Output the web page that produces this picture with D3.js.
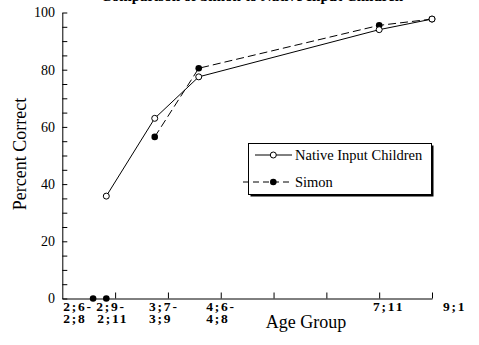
<!DOCTYPE html>
<html>
<head>
<meta charset="utf-8">
<script src="https://cdn.jsdelivr.net/npm/d3@7"></script>
<style>
  body { margin: 0; background: #fff; }
  svg { display: block; font-family: 'Liberation Serif', 'Times New Roman', serif; }
</style>
</head>
<body>
<div id="chart"></div>
<script>
// Age groups (label lines) and where each group sits on the age axis, in months
var groupLine1 = ['2;6-', '2;9-', '3;7-', '4;6-', '7;11', '9;1']
var groupLine2 = ['2;8', '2;11', '3;9', '4;8', '', '']
var groupAge = [31, 34, 45, 55, 96, 108]
var labelAge = [24.2, 31.7, 43.7, 56.7, 94.6, 110.5]

// Percent correct per group (null = no data)
var nativeValues = [null, 35.8, 63, 77.5, 94, 97.7]
var simonValues = [0, 0, 56.5, 80.5, 95.5, 97.7]
var simonLineFrom = 2 // Simon's line is only drawn from 3;7-3;9 on

var yearTicks = [36, 48, 60, 72, 84, 96, 108]

var width = 479
var height = 345

var svg = d3.select('#chart').append('svg')
  .attr('width', width)
  .attr('height', height)

var x = d3.scaleLinear().domain([24, 108]).range([62.3, 432])
var y = d3.scaleLinear().domain([0, 100]).range([298.5, 12.5])

// Title (clipped at the top of the picture)
svg.append('text')
  .attr('x', 252)
  .attr('y', 0.5)
  .attr('text-anchor', 'middle')
  .attr('font-weight', 'bold')
  .attr('font-size', 15)
  .text('Comparison of Simon to Native Input Children')

// Y axis: major ticks with labels every 20, minor every 5
svg.append('g')
  .attr('transform', 'translate(' + x(24) + ',0)')
  .call(d3.axisLeft(y).tickValues(d3.range(0, 101, 5)).tickSizeInner(-5).tickSizeOuter(0).tickFormat(''))
  .call(g => g.selectAll('line').attr('stroke', '#000'))
  .call(g => g.select('.domain').attr('stroke', '#000'))

svg.append('g')
  .selectAll('text')
  .data(d3.range(0, 101, 20))
  .join('text')
  .attr('x', 55)
  .attr('y', d => y(d))
  .attr('dy', '0.35em')
  .attr('text-anchor', 'end')
  .attr('font-size', 14)
  .text(d => d)

// X axis: yearly ticks pointing up
svg.append('g')
  .attr('transform', 'translate(0,' + y(0) + ')')
  .call(d3.axisBottom(x).tickValues(yearTicks).tickSizeInner(-6).tickSizeOuter(0).tickFormat(''))
  .call(g => g.selectAll('line').attr('stroke', '#000'))
  .call(g => g.select('.domain').attr('stroke', '#000'))

var labels = svg.append('g')
  .style('font-weight', 'bold')
  .style('font-size', '13.5px')
  .style('letter-spacing', '1.8px')
labels.selectAll('text.l1')
  .data(groupLine1)
  .join('text')
  .attr('class', 'l1')
  .attr('x', (d, i) => x(labelAge[i]))
  .attr('y', 311)
  .text(d => d)
labels.selectAll('text.l2')
  .data(groupLine2)
  .join('text')
  .attr('class', 'l2')
  .attr('x', (d, i) => x(labelAge[i]) + (i === 1 ? 1 : 0))
  .attr('y', 323)
  .text(d => d)

// Axis titles
svg.append('text')
  .attr('x', 306)
  .attr('y', 328)
  .attr('text-anchor', 'middle')
  .attr('font-size', 18)
  .text('Age Group')

svg.append('text')
  .attr('transform', 'translate(26,154) rotate(-90)')
  .attr('text-anchor', 'middle')
  .attr('font-size', 18)
  .text('Percent Correct')

// Lines
var nativeData = groupAge.map((a, i) => ({ age: a, v: nativeValues[i] })).filter(d => d.v !== null)
var simonData = groupAge.map((a, i) => ({ age: a, v: simonValues[i] }))

var line = d3.line().x(d => x(d.age)).y(d => y(d.v))

svg.append('path')
  .datum(simonData.slice(simonLineFrom))
  .attr('fill', 'none')
  .attr('stroke', '#000')
  .attr('stroke-width', 1)
  .attr('stroke-dasharray', '8,4')
  .attr('d', line)

svg.append('path')
  .datum(nativeData)
  .attr('fill', 'none')
  .attr('stroke', '#000')
  .attr('stroke-width', 1)
  .attr('d', line)

svg.append('g')
  .selectAll('circle')
  .data(simonData)
  .join('circle')
  .attr('cx', d => x(d.age))
  .attr('cy', d => y(d.v))
  .attr('r', 3.3)
  .attr('fill', '#000')

svg.append('g')
  .selectAll('circle')
  .data(nativeData)
  .join('circle')
  .attr('cx', d => x(d.age))
  .attr('cy', d => y(d.v))
  .attr('r', 3)
  .attr('fill', '#fff')
  .attr('stroke', '#000')

// Legend with drop shadow
var legend = svg.append('g')
legend.append('rect')
  .attr('x', 250.5).attr('y', 145.5).attr('width', 183).attr('height', 51)
  .attr('fill', '#000')
legend.append('rect')
  .attr('x', 248.5).attr('y', 143.5).attr('width', 183).attr('height', 51)
  .attr('fill', '#fff').attr('stroke', '#000')

legend.append('line')
  .attr('x1', 255).attr('x2', 292).attr('y1', 155).attr('y2', 155)
  .attr('stroke', '#000')
legend.append('circle')
  .attr('cx', 273.3).attr('cy', 155).attr('r', 3)
  .attr('fill', '#fff').attr('stroke', '#000')
legend.append('text')
  .attr('x', 295).attr('y', 155).attr('dy', '0.35em')
  .attr('font-size', 14.5)
  .text('Native Input Children')

legend.append('line')
  .attr('x1', 243).attr('x2', 292).attr('y1', 182).attr('y2', 182)
  .attr('stroke', '#000').attr('stroke-dasharray', '6,4')
legend.append('circle')
  .attr('cx', 273.3).attr('cy', 182).attr('r', 3.3)
  .attr('fill', '#000')
legend.append('text')
  .attr('x', 295).attr('y', 182).attr('dy', '0.35em')
  .attr('font-size', 14.5)
  .text('Simon')
</script>
</body>
</html>
